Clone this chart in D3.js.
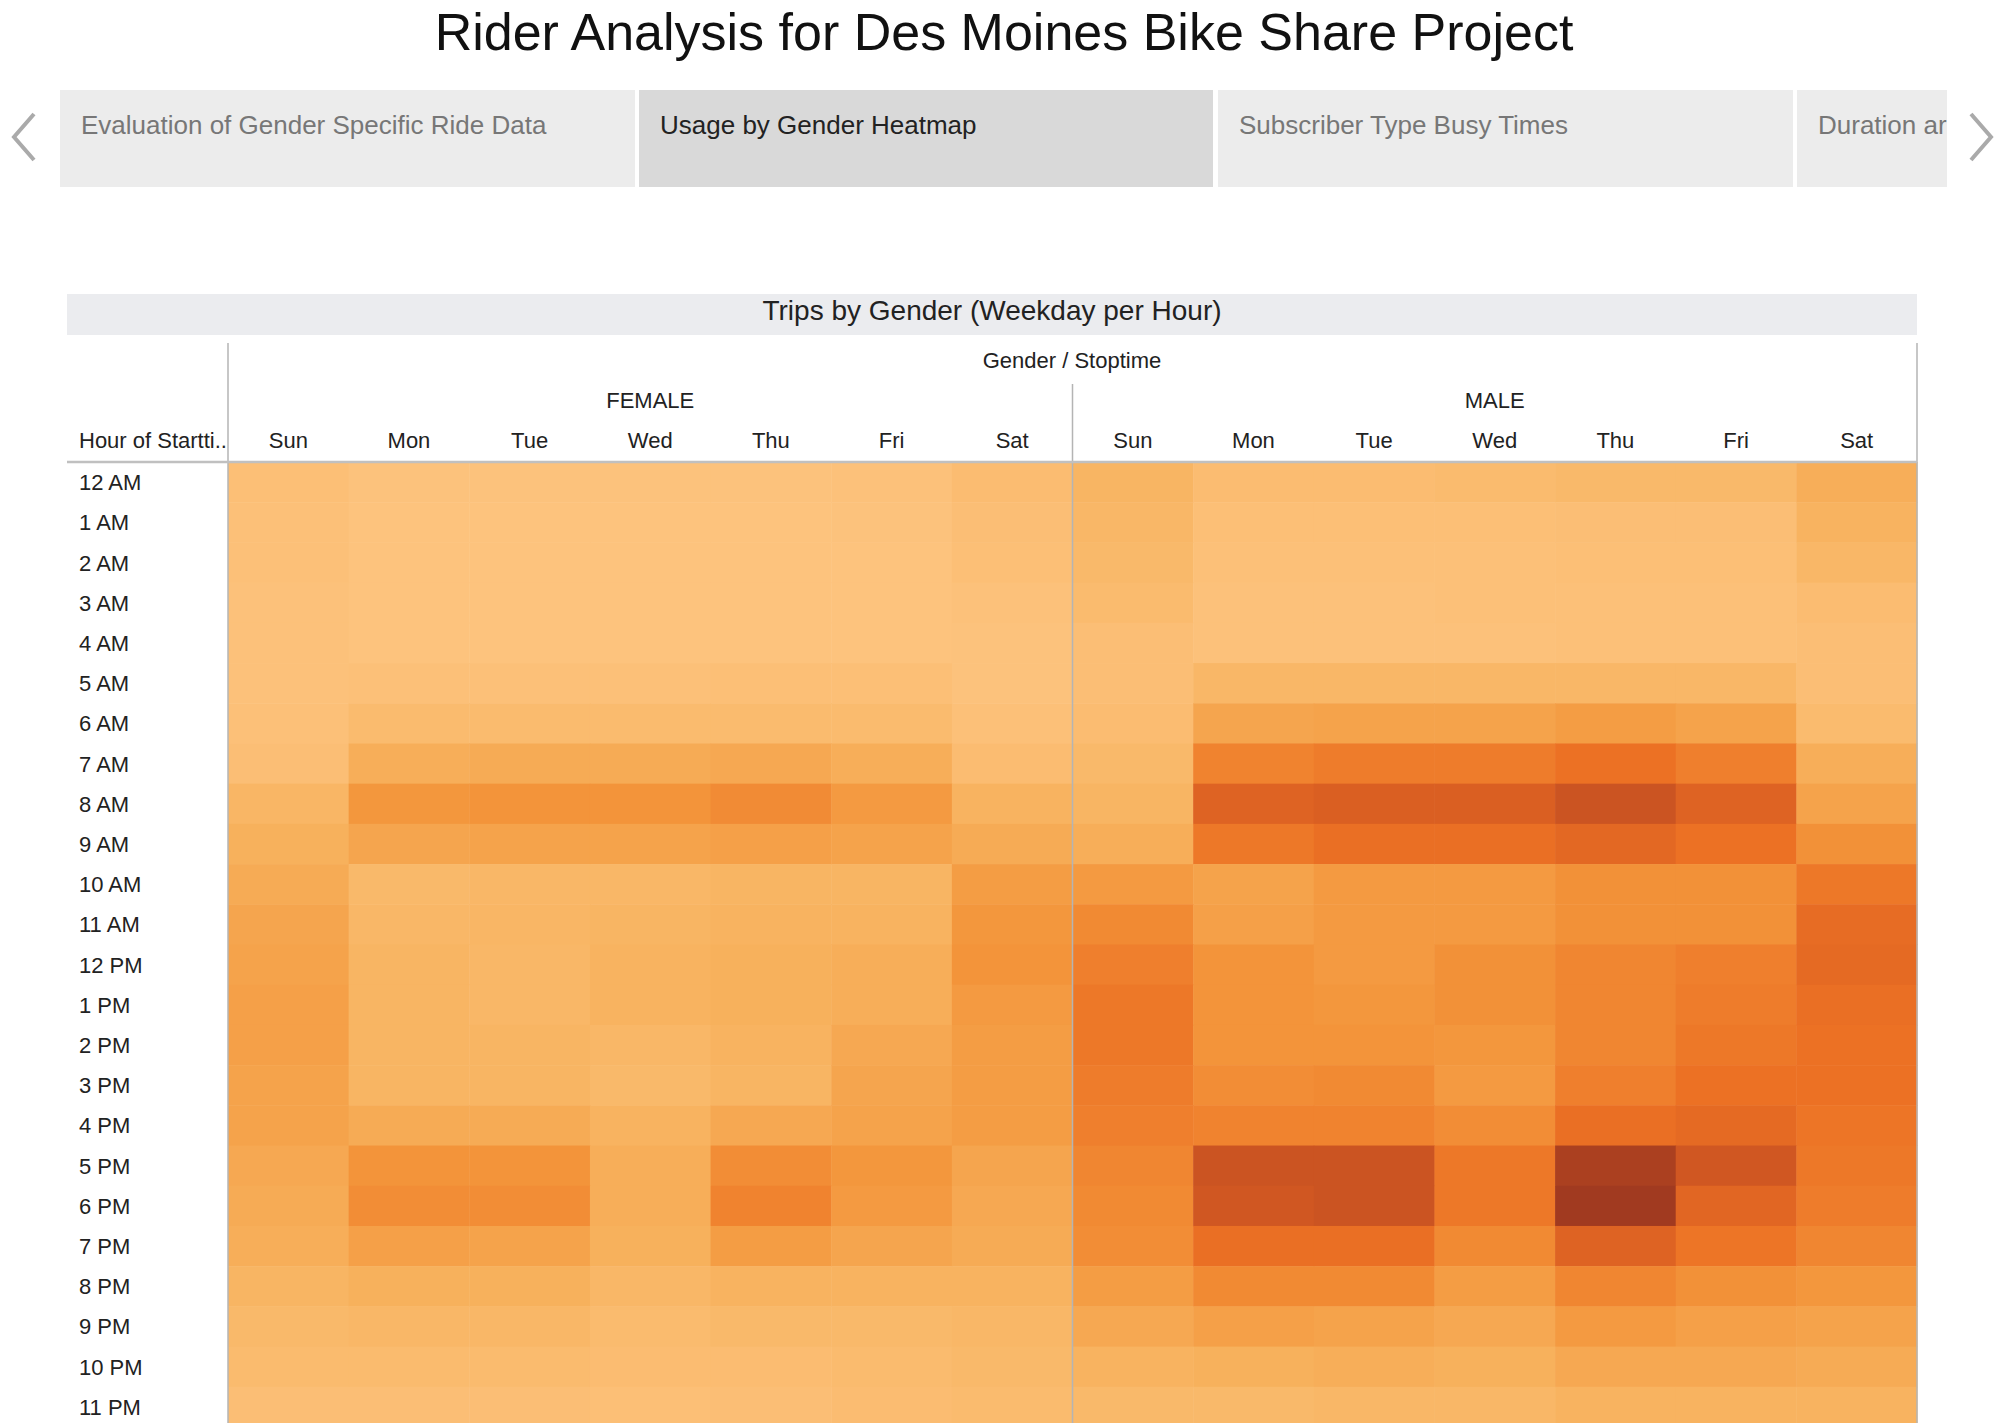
<!DOCTYPE html><html><head><meta charset="utf-8">
<script src="https://cdn.jsdelivr.net/npm/d3@7"></script>
<style>body{margin:0;background:#fff;font-family:"Liberation Sans",Arial,sans-serif}</style></head><body>
<svg id="c" width="2009" height="1423"></svg>
<script>
const tabs=["Evaluation of Gender Specific Ride Data","Usage by Gender Heatmap","Subscriber Type Busy Times","Duration ar"];
const genders=["FEMALE","MALE"];
const days=["Sun","Mon","Tue","Wed","Thu","Fri","Sat"];
const hours=["12 AM","1 AM","2 AM","3 AM","4 AM","5 AM","6 AM","7 AM","8 AM","9 AM","10 AM","11 AM","12 PM","1 PM","2 PM","3 PM","4 PM","5 PM","6 PM","7 PM","8 PM","9 PM","10 PM","11 PM"];
const female=[[5,2,2,2,2,3,8],[4,1,1,1,1,2,6],[4,1,1,1,1,1,5],[3,1,1,1,1,1,3],[3,1,1,1,1,1,2],[3,4,4,4,5,5,2],[4,10,10,10,10,10,4],[6,22,24,24,26,22,8],[15,38,40,40,45,36,18],[20,28,30,30,32,30,24],[24,12,14,14,16,16,34],[28,14,15,16,18,18,38],[30,16,14,18,20,22,40],[32,16,14,18,20,22,36],[32,16,16,14,18,26,34],[30,16,16,12,16,28,34],[30,24,24,18,26,30,34],[26,40,40,22,44,38,28],[24,44,44,22,50,36,26],[22,32,30,20,34,28,24],[16,20,20,14,18,18,18],[12,14,14,10,12,12,14],[10,10,10,8,8,10,12],[6,6,6,5,6,8,10]];
const male=[[16,8,8,10,12,12,22],[14,5,5,5,6,6,18],[12,4,4,4,5,5,14],[10,3,3,4,4,4,8],[6,3,3,3,4,4,6],[6,14,14,14,14,14,6],[8,28,30,30,34,30,10],[12,50,54,54,60,52,22],[16,72,76,76,84,72,30],[22,56,62,62,68,60,42],[36,30,36,36,42,42,56],[46,32,36,36,42,42,64],[52,40,36,42,48,52,66],[56,40,38,42,48,54,62],[56,40,40,38,48,56,60],[54,44,46,36,52,60,60],[52,50,50,44,62,66,58],[48,84,84,56,96,82,56],[46,82,84,56,100,70,54],[44,62,62,46,72,58,48],[34,46,46,34,48,42,38],[26,32,30,26,36,32,30],[18,20,22,20,26,26,24],[12,12,14,14,18,18,18]];

const svg=d3.select("#c");
svg.append("text").attr("x",1004).attr("y",50).attr("text-anchor","middle").attr("font-size",52).attr("fill","#111").text("Rider Analysis for Des Moines Bike Share Project");
// tabs
const tabX=[60,639,1218,1797],tabW=[575,574,575,150];
tabs.forEach((t,i)=>{
  svg.append("rect").attr("x",tabX[i]).attr("y",90).attr("width",tabW[i]).attr("height",97).attr("fill",i==1?"#d9d9d9":"#ececec");
});
const clip=svg.append("clipPath").attr("id","tc").append("rect").attr("x",0).attr("y",80).attr("width",1947).attr("height",120);
tabs.forEach((t,i)=>{
  svg.append("text").attr("clip-path","url(#tc)").attr("x",tabX[i]+21).attr("y",134).attr("font-size",26).attr("fill",i==1?"#222":"#777").text(t);
});
svg.append("path").attr("d","M34,114 L14,137 L34,160").attr("fill","none").attr("stroke","#aaa").attr("stroke-width",4);
svg.append("path").attr("d","M1971,114 L1991,137 L1971,160").attr("fill","none").attr("stroke","#aaa").attr("stroke-width",4);
// chart title
svg.append("rect").attr("x",67).attr("y",294).attr("width",1850).attr("height",41).attr("fill","#ebecef");
svg.append("text").attr("x",992).attr("y",320).attr("text-anchor","middle").attr("font-size",28).attr("fill","#222").text("Trips by Gender (Weekday per Hour)");

const x0=228,x1=1917,yTop=462,yBot=1427;
const cols=[];genders.forEach(g=>days.forEach(d=>cols.push(g+"|"+d)));
const x=d3.scaleBand().domain(cols).range([x0,x1]);
const y=d3.scaleBand().domain(hours).range([yTop,yBot]);
const color=d3.scaleLinear().domain([0,20,40,60,80,100]).range(["#fdc47f","#f7b15c","#f3943a","#ec7124","#d55a22","#a13a20"]);
const cells=[];
hours.forEach((h,r)=>days.forEach((d,c)=>{cells.push({g:"FEMALE",d,h,v:female[r][c]});cells.push({g:"MALE",d,h,v:male[r][c]});}));
svg.append("g").selectAll("rect").data(cells).join("rect")
 .attr("x",d=>x(d.g+"|"+d.d)).attr("y",d=>y(d.h)).attr("width",x.bandwidth()+0.5).attr("height",y.bandwidth()+0.5).attr("fill",d=>color(d.v));
// header
svg.append("text").attr("x",1072).attr("y",368).attr("text-anchor","middle").attr("font-size",22).attr("fill","#222").text("Gender  /  Stoptime");
genders.forEach((g,i)=>{
  const cx=(x(g+"|Sun")+x(g+"|Sat")+x.bandwidth())/2;
  svg.append("text").attr("x",cx).attr("y",408).attr("text-anchor","middle").attr("font-size",22).attr("fill","#222").text(g);
});
cols.forEach(c=>svg.append("text").attr("x",x(c)+x.bandwidth()/2).attr("y",448).attr("text-anchor","middle").attr("font-size",22).attr("fill","#222").text(c.split("|")[1]));
svg.append("text").attr("x",79).attr("y",448).attr("font-size",22).attr("fill","#222").text("Hour of Startti..");
hours.forEach(h=>svg.append("text").attr("x",79).attr("y",y(h)+y.bandwidth()/2+8).attr("font-size",22).attr("fill","#222").text(h));
// lines
const L=(a,b,c,d,w,col)=>svg.append("line").attr("x1",a).attr("y1",b).attr("x2",c).attr("y2",d).attr("stroke",col||"#b4b4b4").attr("stroke-width",w||1.5);
L(x0,343,x0,yBot);L(x1,343,x1,yBot);
L(x("MALE|Sun"),384,x("MALE|Sun"),yBot);
L(67,yTop,x1,yTop,2.5,"#c0c0c0");
L(67,yBot-2,x0,yBot-2,2,"#c0c0c0");
</script></body></html>
